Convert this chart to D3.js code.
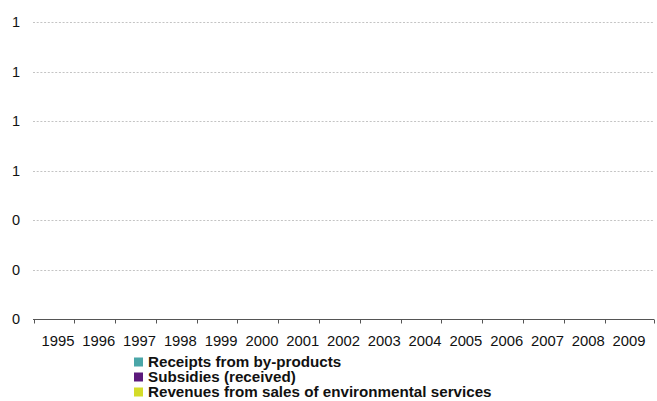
<!DOCTYPE html>
<html><head><meta charset="utf-8">
<script src="https://cdn.jsdelivr.net/npm/d3@7"></script>
<style>body{margin:0;background:#fff}svg{display:block;font-family:"Liberation Sans",Arial,sans-serif}</style>
</head><body><svg id="c" width="657" height="401"></svg>
<script>
const years = ["1995","1996","1997","1998","1999","2000","2001","2002","2003","2004","2005","2006","2007","2008","2009"];
const seriesNames = ["Receipts from by-products","Subsidies (received)","Revenues from sales of environmental services"];
const receipts = [0,0,0,0,0,0,0,0,0,0,0,0,0,0,0];
const subsidies = [0,0,0,0,0,0,0,0,0,0,0,0,0,0,0];
const revenues = [0,0,0,0,0,0,0,0,0,0,0,0,0,0,0];
const colors = ["#4aa6a8","#5c1a7c","#d4dc29"];
const yTicks = [0,0.2,0.4,0.6,0.8,1.0,1.2];

const svg = d3.select("#c");
const x = d3.scaleBand().domain(years).range([33.5,653.5]).padding(0.2);
const y = d3.scaleLinear().domain([0,1.2]).range([319,22]);

// gridlines
svg.append("g").selectAll("line").data(yTicks.filter(d=>d>0)).join("line")
  .attr("x1",33).attr("x2",654)
  .attr("y1",d=>Math.round(y(d))+0.5).attr("y2",d=>Math.round(y(d))+0.5)
  .attr("stroke","#c4c4c4").attr("stroke-dasharray","2,1.7");

// y labels
svg.append("g").selectAll("text").data(yTicks).join("text")
  .attr("x",20).attr("y",d=>y(d)).attr("dy","0.35em")
  .attr("text-anchor","end").attr("font-size",14.5).attr("fill","#111")
  .text(d=>d3.format(".0f")(d));

// stacked bars
const table = years.map((yr,i)=>({year:yr,a:receipts[i],b:subsidies[i],c:revenues[i]}));
const stack = d3.stack().keys(["a","b","c"])(table);
svg.append("g").selectAll("g").data(stack).join("g").attr("fill",(d,i)=>colors[i])
  .selectAll("rect").data(d=>d).join("rect")
  .attr("x",d=>x(d.data.year)).attr("width",x.bandwidth())
  .attr("y",d=>y(d[1])).attr("height",d=>y(d[0])-y(d[1]));

// x axis
const xa = svg.append("g").attr("transform","translate(0,319.5)");
xa.append("line").attr("x1",33).attr("x2",654).attr("stroke","#555");
const edges = years.map(yr=>x(yr)-x.step()*x.paddingOuter()).concat([x.range()[1]]);
xa.selectAll("line.t").data(edges).join("line").attr("class","t")
  .attr("x1",d=>Math.round(d)+0.5).attr("x2",d=>Math.round(d)+0.5).attr("y1",0).attr("y2",4).attr("stroke","#555");
xa.selectAll("text").data(years).join("text")
  .attr("x",d=>x(d)+x.bandwidth()/2).attr("y",21.5).attr("dy","0.35em")
  .attr("text-anchor","middle").attr("font-size",14.8).attr("fill","#111").text(d=>d);

// legend
const lg = svg.append("g").attr("transform","translate(134,357.5)");
seriesNames.forEach((n,i)=>{
  const g = lg.append("g").attr("transform",`translate(0,${i*15})`);
  g.append("rect").attr("width",9).attr("height",9).attr("fill",colors[i]);
  g.append("text").attr("x",14).attr("y",4.5).attr("dy","0.35em")
    .attr("font-size",15.2).attr("font-weight","bold").attr("fill","#111").text(n);
});
</script></body></html>
